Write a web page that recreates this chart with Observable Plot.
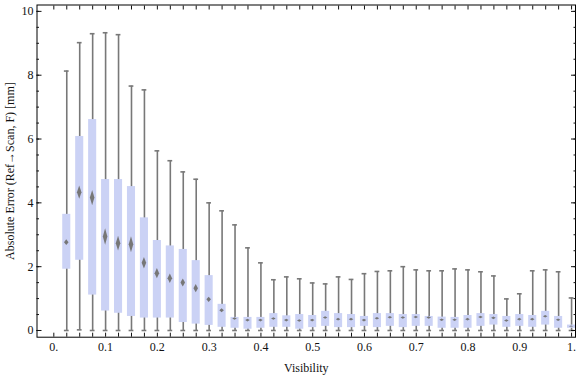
<!DOCTYPE html>
<html><head><meta charset="utf-8">
<script src="https://cdn.jsdelivr.net/npm/d3@7"></script>
<script src="https://cdn.jsdelivr.net/npm/@observablehq/plot@0.6"></script>
<style>body{margin:0;background:#fff;}</style>
</head><body><div id="chart"></div>
<script>
// Categories (visibility bins)
const visibility = [0.025,0.05,0.075,0.1,0.125,0.15,0.175,0.2,0.225,0.25,0.275,0.3,0.325,0.35,0.375,0.4,0.425,0.45,0.475,0.5,0.525,0.55,0.575,0.6,0.625,0.65,0.675,0.7,0.725,0.75,0.775,0.8,0.825,0.85,0.875,0.9,0.925,0.95,0.975,1.0];
// Box-whisker statistics (mm)
const whiskerLow  = [0,0.02,0,0,0,0,0,0,0,0,0,0,0,0,0,0,0,0,0,0,0,0,0,0,0,0,0,0,0,0,0,0,0,0,0,0,0,0,0,0];
const lowerQuartile = [1.92,2.20,1.11,0.61,0.54,0.44,0.39,0.39,0.39,0.25,0.20,0.16,0.10,0.07,0.04,0.07,0.10,0.10,0.04,0.09,0.13,0.09,0.09,0.13,0.09,0.13,0.09,0.13,0.13,0.07,0.07,0.07,0.13,0.17,0.10,0.13,0.10,0.17,0.07,0.07];
const median = [2.75,4.32,4.15,2.93,2.72,2.69,2.11,1.78,1.62,1.49,1.31,0.96,0.62,0.36,0.31,0.31,0.36,0.31,0.30,0.31,0.39,0.34,0.34,0.31,0.37,0.40,0.39,0.41,0.39,0.32,0.32,0.34,0.41,0.38,0.30,0.34,0.34,0.43,0.32,0.12];
const upperQuartile = [3.64,6.08,6.61,4.73,4.73,4.51,3.53,2.82,2.65,2.54,2.19,1.72,0.82,0.41,0.41,0.41,0.53,0.46,0.50,0.47,0.60,0.53,0.50,0.44,0.53,0.53,0.50,0.50,0.44,0.42,0.41,0.47,0.53,0.50,0.44,0.50,0.47,0.60,0.44,0.17];
const whiskerHigh = [8.13,9.02,9.30,9.33,9.27,7.66,7.54,5.63,5.32,4.97,4.74,4.00,3.75,3.31,2.59,2.12,1.59,1.68,1.62,1.49,1.46,1.68,1.60,1.78,1.85,1.87,2.00,1.90,1.87,1.87,1.93,1.90,1.84,1.71,0.99,1.15,1.87,1.90,1.84,1.02];
// Median confidence half-interval (diamond notch)
const medianCI = [0.09,0.21,0.24,0.26,0.23,0.25,0.18,0.16,0.15,0.125,0.13,0.08,0.06,0.04,0.04,0.04,0.04,0.04,0.04,0.04,0.04,0.04,0.04,0.04,0.04,0.04,0.04,0.04,0.04,0.04,0.04,0.04,0.04,0.04,0.04,0.04,0.04,0.04,0.04,0.02];
// Tick labels
const xTickValues = [0,0.1,0.2,0.3,0.4,0.5,0.6,0.7,0.8,0.9,1.0];
const xTickLabels = ["0.","0.1","0.2","0.3","0.4","0.5","0.6","0.7","0.8","0.9","1."];
const yTickValues = [0,2,4,6,8,10];
const yTickLabels = ["0","2","4","6","8","10"];
const xLabel = "Visibility";
const yLabel = "Absolute Error (Ref\u2192Scan, F) [mm]";

const rows = visibility.map((v, i) => ({
  v, lo: whiskerLow[i], q1: lowerQuartile[i], med: median[i], q3: upperQuartile[i], hi: whiskerHigh[i], ci: medianCI[i]
}));
const BW = 0.0078, CW = 0.0046, DW = 0.0044;
const diamonds = rows.flatMap((d, i) => [
  {k: i, x: d.v - DW, y1: d.med, y2: d.med},
  {k: i, x: d.v, y1: d.med - d.ci, y2: d.med + d.ci},
  {k: i, x: d.v + DW, y1: d.med, y2: d.med}
]);
const xMinor = d3.range(0, 41).map(i => i * 0.025);
const yMinor = d3.range(0, 21).map(i => i * 0.5);
const gray = "#787878";
const font = "'Liberation Serif', 'Times New Roman', serif";

const chart = Plot.plot({
  width: 576, height: 377,
  marginLeft: 36.5, marginRight: 1, marginTop: 4.5, marginBottom: 40.3,
  style: {fontFamily: font, fontSize: "12px", background: "white", color: "#111"},
  x: {domain: [-0.0325, 1.0076]},
  y: {domain: [-0.21, 10.2]},
  marks: [
    Plot.ruleX(rows, {x: "v", y1: "lo", y2: "hi", stroke: gray, strokeWidth: 1.6}),
    Plot.ruleY(rows, {y: "lo", x1: d => d.v - CW, x2: d => d.v + CW, stroke: gray, strokeWidth: 1.6}),
    Plot.ruleY(rows, {y: "hi", x1: d => d.v - CW, x2: d => d.v + CW, stroke: gray, strokeWidth: 1.6}),
    Plot.rect(rows, {x1: d => d.v - BW, x2: d => d.v + BW, y1: "q1", y2: "q3", fill: "#cbd2f5", clip: true}),
    Plot.areaY(diamonds, {x: "x", y1: "y1", y2: "y2", z: "k", fill: "#777", clip: true}),
    Plot.frame({stroke: "black", strokeWidth: 1}),
    Plot.axisX({anchor: "bottom", ticks: xMinor, tickSize: -4, tickFormat: () => "", label: null}),
    Plot.axisX({anchor: "top", ticks: xMinor, tickSize: -4, tickFormat: () => "", label: null}),
    Plot.axisX({anchor: "bottom", ticks: xTickValues, tickSize: 0, tickPadding: 5, tickFormat: (d, i) => xTickLabels[i], label: null}),
    Plot.axisY({anchor: "left", ticks: yMinor, tickSize: -2.5, tickFormat: () => "", label: null}),
    Plot.axisY({anchor: "right", ticks: yMinor, tickSize: -2.5, tickFormat: () => "", label: null}),
    Plot.axisY({anchor: "left", ticks: yTickValues, tickSize: -5, tickFormat: () => "", label: null}),
    Plot.axisY({anchor: "right", ticks: yTickValues, tickSize: -5, tickFormat: () => "", label: null}),
    Plot.axisY({anchor: "left", ticks: yTickValues, tickSize: 0, tickPadding: 3.5, tickFormat: (d, i) => yTickLabels[i], label: null}),
    Plot.text([xLabel], {text: d => d, frameAnchor: "bottom", textAnchor: "middle", lineAnchor: "middle", dy: 31, fontSize: 12}),
    Plot.text([yLabel], {text: d => d, frameAnchor: "left", textAnchor: "middle", lineAnchor: "middle", rotate: -90, dx: -27, dy: 0, fontSize: 12})
  ]
});
document.getElementById("chart").appendChild(chart);
</script>
</body></html>
